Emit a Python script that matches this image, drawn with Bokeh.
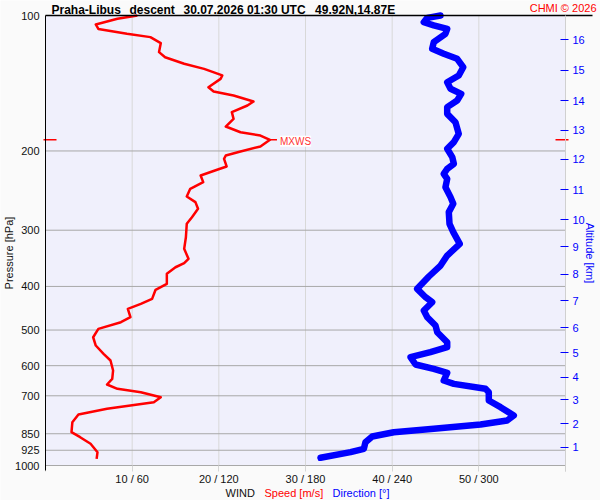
import math
from bokeh.plotting import figure
from bokeh.models import (Range1d, LogAxis, FixedTicker, CustomJSTickFormatter,
                          Label, BoxAnnotation)
from bokeh.embed import file_html
from bokeh.resources import INLINE

# ---------------- data ----------------
# wind speed profile [m/s] vs pressure [hPa]
speed_p = [100, 101.7, 104.7, 107.1, 109.8, 111.7, 115.2, 120.6, 123.8, 128.0,
           131.4, 135.9, 138.3, 144.3, 147.5, 150.6, 155.3, 158.5, 164.0, 169.7,
           176.5, 181.7, 184.8, 188.9, 195.4, 200.5, 204.7, 208.2, 216.5, 220.2,
           226.7, 234.6, 242.7, 252.5, 259.9, 268.9, 280.7, 290.4, 311.0, 330.0,
           347.3, 355.2, 362.6, 375.1, 394.7, 407.0, 426.2, 437.2, 448.5, 468.2,
           480.4, 497.1, 518.8, 541.2, 564.8, 584.3, 614.9, 641.9, 660.7, 675.5,
           687.3, 705.1, 723.4, 748.2, 770.4, 801.1, 843.3, 865.2, 895.0, 934.1,
           966.5]
speed = [10.6, 8.3, 5.8, 6.1, 9.4, 12.1, 13.3, 13.1, 13.8, 16.0,
         18.3, 20.4, 20.2, 18.8, 19.4, 21.7, 24.0, 23.3, 21.5, 21.7,
         20.8, 22.5, 24.8, 25.9, 24.8, 22.5, 20.8, 20.6, 20.9, 19.8,
         17.9, 18.2, 16.7, 16.3, 17.3, 17.6, 16.9, 16.3, 16.2, 16.0,
         16.5, 16.0, 15.0, 14.0, 14.0, 12.7, 12.3, 11.0, 9.5, 9.8,
         8.7, 6.1, 5.5, 5.8, 6.7, 7.5, 7.8, 7.7, 7.1, 8.3,
         11.0, 13.3, 12.5, 7.1, 3.8, 3.1, 3.0, 4.0, 5.2, 6.0,
         5.9]

# wind direction profile [deg] vs pressure [hPa]
dir_p = [100, 101.2, 103.5, 105.2, 107.1, 109.8, 114.6, 118.6, 121.6, 124.8,
         130.3, 135.9, 140.7, 145.5, 149.3, 154.5, 159.8, 165.4, 172.6, 183.2,
         191.2, 197.8, 206.4, 213.6, 219.1, 224.8, 230.6, 240.7, 253.3, 262.1,
         273.5, 290.4, 303.0, 321.7, 341.5, 359.4, 380.2, 405.0, 422.7, 433.6,
         452.4, 468.2, 488.5, 505.5, 532.1, 546.0, 560.0, 574.5, 596.5, 609.7,
         622.3, 647.4, 658.5, 675.5, 687.3, 717.1, 742.0, 774.3, 794.3, 810.7,
         828.8, 843.3, 862.1, 887.5, 918.3, 934.1, 961.4]
direction = [273.5, 264.3, 261.9, 268.8, 278.1, 276.9, 268.8, 267.7, 275.7, 285.0,
             289.2, 286.1, 278.1, 280.4, 287.8, 285.0, 278.1, 278.1, 283.8, 286.1,
             282.7, 278.1, 281.6, 282.7, 278.1, 275.7, 278.1, 276.9, 280.4, 282.3,
             279.2, 279.7, 282.3, 286.8, 278.1, 273.5, 265.4, 257.3, 263.1, 267.7,
             261.9, 264.3, 270.0, 271.2, 278.1, 278.1, 266.5, 252.7, 256.2, 268.8,
             278.1, 275.7, 282.7, 304.6, 306.9, 306.9, 315.0, 324.2, 319.6, 301.2,
             268.8, 241.1, 226.2, 221.5, 220.4, 211.2, 190.4]

# axes / ticks
speed_min, speed_max = 0, 60          # m/s  (direction 0..360 deg)
p_top, p_bottom = 100, 1000           # hPa
pressure_ticks = [100, 200, 300, 400, 500, 600, 700, 850, 925, 1000]
grid_pressures = [200, 300, 400, 500, 600, 700, 850, 925, 1000]
speed_ticks = [10, 20, 30, 40, 50]
speed_tick_labels = ["10 / 60", "20 / 120", "30 / 180", "40 / 240", "50 / 300"]
alt_labels = ["1", "2", "3", "4", "5", "6", "7", "8", "9", "10",
              "11", "12", "13", "14", "15", "16"]
alt_pressure = [909.8, 807.9, 714.5, 636.6, 561.0, 493.6, 430.0, 376.3, 326.9, 284.1,
                243.6, 208.9, 180.1, 154.5, 132.5, 113.2]

title_parts = ["Praha-Libus", "descent", "30.07.2026 01:30 UTC", "49.92N,14.87E"]

# ---------------- geometry (canvas px -> data) ----------------
W, H = 600, 500
FX0, FX1 = 45, 565     # plot area left/right
FY0, FY1 = 15, 465     # plot area top/bottom


def sx(X):
    return speed_min + (X - FX0) * (speed_max - speed_min) / (FX1 - FX0)


def py(Y):
    return p_top * 10 ** ((Y - FY0) / (FY1 - FY0) * math.log10(p_bottom / p_top))


FONT = "Liberation Sans"

p = figure(width=W, height=H, y_axis_type="log",
           x_range=Range1d(sx(0), sx(W)), y_range=Range1d(py(H), py(0)),
           output_backend="svg", toolbar_location=None, title=None,
           min_border=0, background_fill_color="#fafafa",
           border_fill_color="#fafafa", outline_line_color=None)
p.extra_x_ranges = {"dir": Range1d(sx(0) * 6, sx(W) * 6)}
p.grid.visible = False

# plot area
p.add_layout(BoxAnnotation(left=speed_min, right=speed_max, top=p_top, bottom=p_bottom,
                           fill_color="#f0f0fc", fill_alpha=1.0, line_color=None,
                           level="underlay"))

# grid lines
p.segment(x0=speed_ticks, x1=speed_ticks, y0=[p_top] * len(speed_ticks),
          y1=[p_bottom] * len(speed_ticks), line_color="#d8d8d8", line_width=1)
p.segment(x0=[speed_min] * len(grid_pressures), x1=[speed_max] * len(grid_pressures),
          y0=grid_pressures, y1=grid_pressures, line_color="#a8a8a8", line_width=1)

# bottom axis (speed / direction)
xa = p.xaxis[0]
xa.fixed_location = p_bottom
xa.bounds = (speed_min, speed_max)
xa.ticker = FixedTicker(ticks=[speed_min] + speed_ticks + [speed_max])
xa.formatter = CustomJSTickFormatter(
    args=dict(vals=speed_ticks, labs=speed_tick_labels),
    code="const i = vals.indexOf(tick); return i < 0 ? '' : labs[i];")
xa.axis_line_color = None
xa.major_tick_line_color = "#d6d6d6"
xa.major_tick_out = 6
xa.major_tick_in = 0
xa.minor_tick_line_color = None
xa.major_label_standoff = 1
xa.major_label_text_font = FONT
xa.major_label_text_font_size = "11px"
xa.major_label_text_color = "#111111"

# left axis (pressure)
ya = p.yaxis[0]
ya.fixed_location = speed_min
ya.bounds = (p_top, py(470))
ya.ticker = FixedTicker(ticks=pressure_ticks)
ya.formatter = CustomJSTickFormatter(code="return tick.toFixed(0);")
ya.axis_line_color = "black"
ya.axis_line_width = 1
ya.major_tick_line_color = None
ya.minor_tick_line_color = None
ya.major_tick_out = 0
ya.major_tick_in = 0
ya.major_label_standoff = 6
ya.major_label_text_font = FONT
ya.major_label_text_font_size = "11px"
ya.major_label_text_color = "#111111"

# right axis (altitude)
ra = LogAxis(fixed_location=speed_max, bounds=(p_top, py(471)),
             ticker=FixedTicker(ticks=alt_pressure),
             formatter=CustomJSTickFormatter(
                 args=dict(ps=alt_pressure, labs=alt_labels),
                 code=("for (let i = 0; i < ps.length; i++) {"
                       " if (Math.abs(ps[i] - tick) < 1e-6) return labs[i]; }"
                       " return '';")),
             axis_line_color="#d0d0d0",
             major_tick_line_color="blue", major_tick_in=5, major_tick_out=3,
             minor_tick_line_color=None,
             major_label_standoff=4,
             major_label_text_font=FONT,
             major_label_text_font_size="11px",
             major_label_text_color="blue")
p.add_layout(ra, "right")

# data lines
p.line(direction, dir_p, x_range_name="dir", line_color="#0000ff",
       line_width=6.5, line_cap="round", line_join="round")
p.line(speed, speed_p, line_color="#ff0000", line_width=2.5, line_join="round")

# max wind marker
imax = max(range(len(speed)), key=lambda i: speed[i])
ms, mp = speed[imax], speed_p[imax]
px = (speed_max - speed_min) / (FX1 - FX0)   # m/s per pixel
p.segment(x0=[ms, sx(43), sx(555)], y0=[mp] * 3,
          x1=[ms + 7 * px, sx(56), sx(568)], y1=[mp] * 3,
          line_color="#ff0000", line_width=1.5)
p.add_layout(Label(x=ms, y=mp, x_offset=10, y_offset=-1.5, text="MXWS", text_font=FONT,
                   text_font_size="10px", text_color="#ff3333",
                   text_baseline="middle", background_fill_color="white"))

# top rule
p.segment(x0=[speed_min], y0=[p_top], x1=[sx(592)], y1=[p_top],
          line_color="black", line_width=1.3)

# title
title_x = [51, 129, 183, 314.6]
for tx, tt in zip(title_x, title_parts):
    p.add_layout(Label(x=sx(tx), y=py(9.5), text=tt, text_font=FONT,
                       text_font_size="12px", text_font_style="bold",
                       text_color="black", text_baseline="alphabetic"))
p.add_layout(Label(x=sx(596), y=py(7.5), text="CHMI © 2026", text_font=FONT,
                   text_font_size="11px", text_color="#ff0000",
                   text_align="right", text_baseline="alphabetic"))

# axis titles
p.add_layout(Label(x=sx(8), y=py(252.5), text="Pressure [hPa]", angle=math.pi / 2,
                   text_font=FONT, text_font_size="11px", text_color="#111111",
                   text_align="center", text_baseline="middle"))
p.add_layout(Label(x=sx(589.5), y=py(252.5), text="Altitude [km]", angle=-math.pi / 2,
                   text_font=FONT, text_font_size="11px", text_color="blue",
                   text_align="center", text_baseline="middle"))
for tx, tt, tc in [(225, "WIND", "#111111"), (264, "Speed [m/s]", "#ff0000"),
                   (332, "Direction [°]", "blue")]:
    p.add_layout(Label(x=sx(tx), y=py(492), text=tt, text_font=FONT,
                       text_font_size="11px", text_color=tc,
                       text_baseline="alphabetic"))

open("out.html", "w").write(file_html(p, INLINE))
